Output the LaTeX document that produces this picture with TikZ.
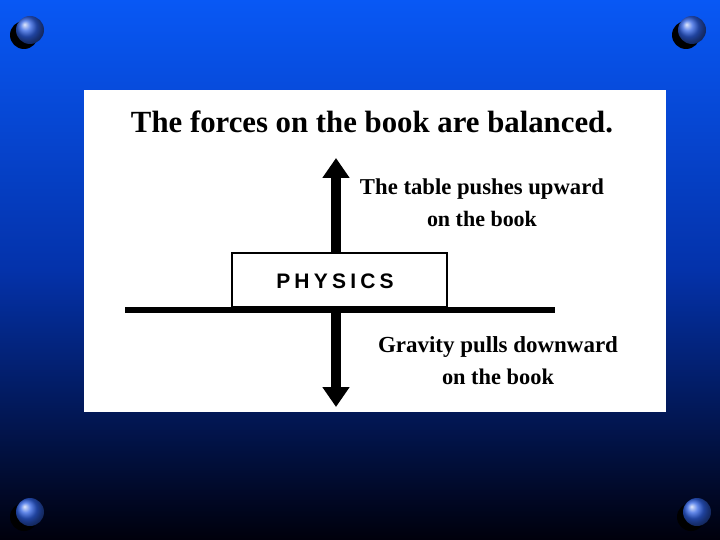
\documentclass[tikz,border=0pt]{standalone}
\usepackage{fontspec}
\setmainfont{Liberation Serif}
\setsansfont{Liberation Sans}
\usetikzlibrary{arrows.meta,shadings}
\definecolor{bgtop}{RGB}{8,88,245}
\definecolor{bgmid}{RGB}{4,50,170}
\definecolor{bgbot}{RGB}{0,0,12}
\definecolor{balldk}{RGB}{45,95,225}
\tikzset{
  ball/.style={circle, minimum size=28pt, inner sep=0pt, ball color=balldk, draw=none},
  ballshadow/.style={circle, minimum size=28pt, inner sep=0pt, fill=black},
  label text/.style={font=\bfseries\fontsize{20}{32}\selectfont, align=center, inner sep=0pt},
  force/.style={line width=10pt, -{Triangle[width=26pt,length=20pt]}},
}
\begin{document}
\begin{tikzpicture}[x=1pt,y=-1pt]
\useasboundingbox (0,0) rectangle (720,540);
\shade[top color=bgtop, bottom color=bgbot, middle color=bgmid] (0,0) rectangle (720,540);
% corner balls
\foreach \n/\x/\y in {a/30/30, b/692/30, c/30/512, d/697/512}{
  \node[ballshadow] at (\x-6,\y+5) {};
  \node[ball] (ball\n) at (\x,\y) {};
}
% white panel
\fill[white] (84,90) rectangle (666,412);
\node[inner sep=0pt, font=\bfseries\fontsize{29}{34}\selectfont] (title) at (372,122) {\resizebox{482pt}{!}{The forces on the book are balanced.}};
% table line
\coordinate (tl) at (125,310);
\coordinate (tr) at (555,310);
\draw[line width=6pt] (tl) -- (tr);
% book
\node[draw, line width=2pt, minimum width=215pt, minimum height=54pt, inner sep=0pt, fill=white] (book) at (339.5,280) {};
\node[font=\sffamily\bfseries\fontsize{21}{24}\selectfont] (phys) at (335,281) {\addfontfeatures{LetterSpace=20}PHYSICS};
% arrows
\coordinate (uptop) at (336,158);
\coordinate (dnbot) at (336,407);
\draw[force] (book.north -| uptop) -- (uptop);
\draw[force] (tl -| dnbot) ++(0,3) -- (dnbot);
% labels
\node[label text] (up) at (482,203) {\resizebox{244pt}{!}{The table pushes upward}\\\resizebox{110pt}{!}{on the book}};
\node[label text] (dn) at (498,361) {\resizebox{240pt}{!}{Gravity pulls downward}\\\resizebox{112pt}{!}{on the book}};
\end{tikzpicture}
\end{document}
